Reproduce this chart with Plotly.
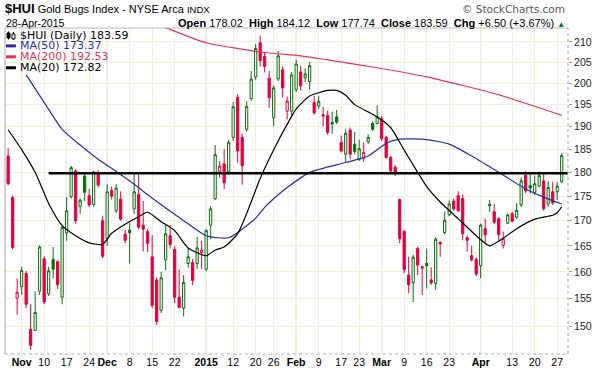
import math
import plotly.graph_objects as go

# ---------------- data ----------------
trading_days = [
    ("2014-10", [29, 30, 31]),
    ("2014-11", [3, 4, 5, 6, 7, 10, 11, 12, 13, 14, 17, 18, 19, 20, 21, 24, 25, 26, 28]),
    ("2014-12", [1, 2, 3, 4, 5, 8, 9, 10, 11, 12, 15, 16, 17, 18, 19, 22, 23, 24, 26, 29, 30, 31]),
    ("2015-01", [2, 5, 6, 7, 8, 9, 12, 13, 14, 15, 16, 20, 21, 22, 23, 26, 27, 28, 29, 30]),
    ("2015-02", [2, 3, 4, 5, 6, 9, 10, 11, 12, 13, 17, 18, 19, 20, 23, 24, 25, 26, 27]),
    ("2015-03", [2, 3, 4, 5, 6, 9, 10, 11, 12, 13, 16, 17, 18, 19, 20, 23, 24, 25, 26, 27, 30, 31]),
    ("2015-04", [1, 2, 6, 7, 8, 9, 10, 13, 14, 15, 16, 17, 20, 21, 22, 23, 24, 27, 28]),
]
dates = [f"{m}-{d:02d}" for m, ds in trading_days for d in ds]

opens = [183.5, 174.7, 155.1, 157.3, 159.7, 149.5, 149.3, 156.4, 162.5, 155.9,
         162.4, 162.0, 155.3, 167.6, 174.9, 180.3, 172.9, 179.2, 175.1, 173.3,
         179.6, 170.0, 166.5, 176.2, 172.0, 174.4, 167.3, 168.1, 172.4, 175.4,
         169.1, 167.8, 162.9, 158.5, 152.9, 162.3, 167.0, 164.3, 155.3, 153.3,
         161.6, 161.8, 161.6, 163.7, 160.5, 169.1, 174.5, 180.1, 181.8, 180.1,
         187.6, 196.7, 187.6, 189.4, 196.4, 201.5, 209.8, 206.5, 201.2, 192.0,
         201.0, 203.2, 193.5, 193.5, 198.5, 202.7, 201.3, 200.4, 195.5, 194.7,
         192.7, 192.5, 190.9, 192.2, 186.5, 183.9, 189.2, 186.1, 182.7, 183.0,
         186.6, 190.7, 190.7, 191.8, 187.6, 183.2, 181.1, 174.3, 167.9, 159.4,
         158.0, 164.5, 160.7, 161.6, 158.5, 157.8, 165.7, 167.6, 171.2, 174.0,
         175.1, 174.5, 166.6, 163.1, 162.4, 161.2, 168.4, 173.3, 171.8, 170.4,
         165.1, 169.5, 171.4, 170.7, 173.2, 179.4, 177.2, 175.7, 177.1, 178.2,
         173.4, 175.9, 175.9, 178.02]
highs = [185.2, 175.1, 158.8, 160.9, 160.2, 154.0, 156.4, 165.1, 163.0, 161.0,
         164.8, 162.2, 169.0, 174.8, 181.4, 180.7, 174.5, 179.7, 176.5, 180.3,
         180.5, 171.0, 177.5, 177.0, 177.5, 176.0, 168.2, 169.5, 179.6, 179.6,
         174.0, 168.3, 167.1, 159.0, 160.0, 169.1, 169.1, 165.0, 160.5, 159.4,
         164.6, 162.5, 166.8, 166.0, 168.3, 173.0, 185.9, 182.4, 185.0, 187.0,
         195.6, 197.5, 188.5, 195.8, 202.9, 209.5, 211.6, 207.5, 202.9, 199.5,
         207.8, 204.0, 196.9, 202.7, 205.6, 204.2, 203.5, 205.0, 197.0, 197.0,
         194.5, 193.6, 193.4, 193.8, 188.0, 189.4, 189.8, 188.8, 187.1, 186.5,
         188.3, 191.2, 194.8, 192.4, 188.0, 183.5, 181.5, 174.5, 168.0, 162.9,
         163.3, 164.8, 161.1, 164.5, 160.9, 166.7, 165.9, 171.8, 174.1, 174.5,
         176.0, 175.4, 167.0, 165.0, 162.8, 169.4, 170.4, 174.2, 173.4, 170.7,
         167.8, 171.4, 171.8, 173.6, 178.9, 180.3, 179.6, 179.3, 180.0, 180.0,
         178.2, 178.0, 177.9, 184.12]
lows = [177.3, 164.3, 152.1, 155.7, 153.3, 145.9, 149.2, 155.7, 154.0, 155.5,
        158.8, 156.8, 154.0, 166.0, 174.5, 169.4, 171.4, 174.0, 172.8, 172.8,
        176.9, 162.6, 165.0, 174.3, 171.5, 170.0, 165.5, 161.6, 171.4, 168.3,
        163.9, 163.8, 153.3, 150.3, 152.4, 160.3, 164.5, 154.2, 153.3, 151.8,
        160.8, 157.5, 160.6, 160.6, 160.1, 166.3, 174.2, 178.8, 176.5, 179.5,
        186.8, 182.1, 177.4, 188.9, 195.9, 200.8, 204.0, 202.6, 194.3, 190.1,
        200.5, 196.6, 191.6, 192.0, 198.0, 198.3, 200.2, 198.5, 192.7, 194.0,
        190.1, 188.2, 188.4, 190.6, 184.3, 182.1, 182.8, 183.9, 182.5, 182.2,
        186.1, 189.0, 190.5, 186.8, 182.9, 179.6, 179.2, 165.5, 159.8, 156.0,
        154.4, 159.4, 155.7, 156.9, 157.6, 156.6, 162.9, 167.3, 170.9, 172.0,
        171.8, 166.1, 163.9, 162.0, 159.2, 158.8, 165.5, 171.8, 169.3, 166.1,
        164.5, 169.3, 169.7, 170.4, 172.8, 175.6, 175.5, 175.2, 176.9, 172.0,
        172.8, 173.2, 174.2, 177.74]
closes = [177.6, 164.7, 156.2, 160.3, 154.0, 146.7, 152.5, 164.8, 154.4, 160.2,
          160.5, 157.6, 168.6, 172.0, 181.0, 170.0, 174.2, 175.8, 173.2, 180.1,
          177.3, 163.0, 175.9, 175.0, 176.7, 170.3, 166.1, 167.6, 175.9, 168.7,
          168.3, 165.5, 153.8, 150.9, 158.9, 167.4, 165.3, 155.3, 153.4, 158.0,
          162.9, 158.4, 164.6, 164.2, 168.0, 172.4, 183.8, 181.3, 177.8, 186.5,
          194.5, 184.6, 181.4, 194.6, 201.0, 208.4, 205.4, 204.0, 196.6, 198.9,
          206.6, 198.9, 195.8, 202.0, 204.6, 199.4, 202.2, 204.2, 193.1, 195.8,
          192.4, 188.7, 190.6, 191.0, 184.6, 188.5, 183.9, 184.5, 185.1, 184.3,
          187.6, 189.4, 192.2, 187.3, 183.2, 180.3, 180.0, 166.4, 160.4, 157.6,
          162.8, 161.3, 161.0, 161.2, 157.9, 166.3, 165.4, 170.1, 173.4, 172.4,
          172.0, 167.4, 166.1, 162.3, 159.6, 169.1, 167.2, 173.1, 169.7, 167.2,
          166.4, 171.2, 169.9, 172.1, 178.2, 176.1, 176.7, 177.6, 179.3, 172.4,
          176.8, 173.6, 177.09, 183.59]

ma20_dates = ["2014-10-29", "2014-11-03", "2014-11-06", "2014-11-11", "2014-11-14",
              "2014-11-19", "2014-11-24", "2014-11-28", "2014-12-02", "2014-12-05",
              "2014-12-10", "2014-12-12", "2014-12-17", "2014-12-22", "2014-12-26",
              "2015-01-02", "2015-01-06", "2015-01-08", "2015-01-13", "2015-01-16",
              "2015-01-21", "2015-01-27", "2015-01-29", "2015-02-02", "2015-02-05",
              "2015-02-11", "2015-02-13", "2015-02-18", "2015-02-20", "2015-02-26",
              "2015-03-02", "2015-03-04", "2015-03-09", "2015-03-12", "2015-03-16",
              "2015-03-19", "2015-03-25", "2015-04-01", "2015-04-06", "2015-04-09",
              "2015-04-14", "2015-04-20", "2015-04-24", "2015-04-27", "2015-04-28"]
ma20_vals = [189.3, 184.9, 180.0, 173.5, 169.0,
             167.0, 165.6, 165.3, 167.5, 169.3,
             170.8, 171.7, 169.8, 168.0, 164.6,
             163.1, 164.2, 164.8, 167.4, 173.8,
             178.7, 186.8, 190.5, 194.0, 197.0,
             198.3, 198.3, 197.2, 195.0, 192.8,
             191.5, 189.8, 184.8, 180.0, 177.0,
             173.8, 170.4, 166.2, 165.0, 166.5,
             168.4, 170.3, 171.1, 171.6, 172.82]

ma50_dates = ["2014-11-04", "2014-11-11", "2014-11-14", "2014-11-26", "2014-12-03",
              "2014-12-09", "2014-12-12", "2014-12-24", "2015-01-02", "2015-01-09",
              "2015-01-20", "2015-01-22", "2015-01-27", "2015-01-29", "2015-02-05",
              "2015-02-18", "2015-02-25", "2015-03-03", "2015-03-06", "2015-03-16",
              "2015-03-23", "2015-03-30", "2015-04-08", "2015-04-16", "2015-04-22",
              "2015-04-28"]
ma50_vals = [202.0, 193.9, 189.4, 182.8, 180.2,
             177.5, 175.3, 170.0, 167.0, 166.6,
             170.5, 172.7, 175.3, 176.8, 180.0,
             182.1, 183.5, 186.3, 187.2, 187.1,
             186.1, 183.5, 180.0, 176.5, 174.8,
             173.37]

ma200_dates = ["2014-12-11", "2014-12-18", "2015-01-02", "2015-01-22", "2015-02-03",
               "2015-02-11", "2015-02-27", "2015-03-16", "2015-04-08", "2015-04-23",
               "2015-04-28"]
ma200_vals = [215.8, 213.6, 209.8, 207.4, 206.6,
              205.6, 203.7, 201.5, 197.3, 193.6,
              192.53]

support_level = 179.8
support_start = "2014-11-11"

tick_dates = ["2014-11-03", "2014-11-10", "2014-11-17", "2014-11-24", "2014-12-01",
              "2014-12-08", "2014-12-15", "2014-12-22", "2015-01-02", "2015-01-12",
              "2015-01-20", "2015-01-26", "2015-02-02", "2015-02-09", "2015-02-17",
              "2015-02-23", "2015-03-02", "2015-03-09", "2015-03-16", "2015-03-23",
              "2015-04-01", "2015-04-13", "2015-04-20", "2015-04-27"]
tick_labels = ["<b>Nov</b>", "10", "17", "24", "<b>Dec</b>", "8", "15", "22", "<b>2015</b>",
               "12", "20", "26", "<b>Feb</b>", "9", "17", "23", "<b>Mar</b>", "9", "16",
               "23", "<b>Apr</b>", "13", "20", "27"]
month_starts = ["2014-11-03", "2014-12-01", "2015-01-02", "2015-02-02", "2015-03-02", "2015-04-01"]
y_ticks = [150, 155, 160, 165, 170, 175, 180, 185, 190, 195, 200, 205, 210]

# ---------------- styling ----------------
GREEN = "#0b6e0b"
RED = "#e2003f"
BLUE = "#26309c"
CRIMSON = "#e4335f"
GRID = "#f1efd8"
MONTHGRID = "#c6dec6"

W, H = 597, 373
ML, MR, MT, MB = 5, 25, 28, 17
PW, PH = W - ML - MR, H - MT - MB
X_RANGE = [-0.7, 124.4]
Y_LO, Y_HI = 145.2, 213.5


def px(x):
    return (x - ML) / PW


def py(y):
    return (H - MB - y) / PH


def yval_paper(v):
    return (math.log10(v) - math.log10(Y_LO)) / (math.log10(Y_HI) - math.log10(Y_LO))


pos = {d: i for i, d in enumerate(dates)}
xs = list(range(len(dates)))

# colour by close vs previous close (StockCharts convention)
up_idx, dn_idx = [], []
for i in xs:
    ref = closes[i - 1] if i > 0 else opens[i]
    (up_idx if closes[i] >= ref else dn_idx).append(i)

fig = go.Figure()


def add_candles(idx, color):
    fig.add_trace(go.Candlestick(
        x=[xs[i] for i in idx],
        open=[opens[i] for i in idx], high=[highs[i] for i in idx],
        low=[lows[i] for i in idx], close=[closes[i] for i in idx],
        increasing=dict(line=dict(color=color, width=1), fillcolor="white"),
        decreasing=dict(line=dict(color=color, width=1), fillcolor=color),
        whiskerwidth=0, showlegend=False, hoverinfo="skip"))


add_candles(up_idx, GREEN)
add_candles(dn_idx, RED)

for d_list, v_list, col, wdt in [(ma200_dates, ma200_vals, CRIMSON, 1.2),
                                  (ma50_dates, ma50_vals, BLUE, 1.2),
                                  (ma20_dates, ma20_vals, "black", 1.2)]:
    fig.add_trace(go.Scatter(x=[pos[d] for d in d_list], y=v_list, mode="lines",
                             line=dict(color=col, width=wdt, shape="spline", smoothing=0.6),
                             showlegend=False, hoverinfo="skip"))

shapes = []
for d in month_starts:
    shapes.append(dict(type="line", xref="x", yref="paper", x0=pos[d], x1=pos[d], y0=0, y1=1,
                       line=dict(color=MONTHGRID, width=1.2), layer="below"))
# support line
shapes.append(dict(type="line", xref="x", yref="paper", x0=pos[support_start], x1=X_RANGE[1],
                   y0=yval_paper(support_level), y1=yval_paper(support_level),
                   line=dict(color="black", width=2.6)))
# frame
shapes += [
    dict(type="line", xref="paper", yref="paper", x0=0, x1=0, y0=0, y1=1, line=dict(color="#a8a8a8", width=1)),
    dict(type="line", xref="paper", yref="paper", x0=0, x1=1, y0=1, y1=1, line=dict(color="#b8b8b8", width=1)),
    dict(type="line", xref="paper", yref="paper", x0=1, x1=1, y0=0, y1=1, line=dict(color="#a0a0a0", width=1, dash="dot")),
    dict(type="line", xref="paper", yref="paper", x0=0, x1=1, y0=0, y1=0, line=dict(color="#b0b0b0", width=1, dash="dot")),
]
# legend markers
for yy, col in [(46, BLUE), (57, CRIMSON), (68, "black")]:
    shapes.append(dict(type="line", xref="paper", yref="paper", x0=px(6), x1=px(16), y0=py(yy), y1=py(yy),
                       line=dict(color=col, width=3)))
# candle icon for $HUI
shapes += [
    dict(type="line", xref="paper", yref="paper", x0=px(8.5), x1=px(8.5), y0=py(39.5), y1=py(31.5), line=dict(color="black", width=1)),
    dict(type="rect", xref="paper", yref="paper", x0=px(7), x1=px(10), y0=py(38), y1=py(33), line=dict(color="black", width=1), fillcolor="black"),
    dict(type="line", xref="paper", yref="paper", x0=px(13.5), x1=px(13.5), y0=py(40), y1=py(32), line=dict(color="black", width=1)),
    dict(type="rect", xref="paper", yref="paper", x0=px(12), x1=px(15), y0=py(39), y1=py(34), line=dict(color="black", width=1), fillcolor="white"),
]

HF = "Liberation Sans, Arial, sans-serif"
LF = "DejaVu Sans, Verdana, sans-serif"
ann = []
ann.append(dict(xref="paper", yref="paper", x=px(3), y=py(8.5), xanchor="left", yanchor="middle",
                text="<span style='font-size:13px'><b>$HUI</b></span> Gold Bugs Index - NYSE Arca <span style='font-size:9.5px'>INDX</span>",
                showarrow=False, font=dict(family=HF, size=11, color="black")))
ann.append(dict(xref="paper", yref="paper", x=px(4), y=py(22.5), xanchor="left", yanchor="middle",
                text="28-Apr-2015", showarrow=False, font=dict(family=HF, size=10.5, color="black")))
ann.append(dict(xref="paper", yref="paper", x=px(571), y=py(22.5), xanchor="right", yanchor="middle",
                text="<b>Open</b> 178.02  <b>High</b> 184.12  <b>Low</b> 177.74  <b>Close</b> 183.59  <b>Chg</b> +6.50 (+3.67%) <span style='color:#0b6e0b;font-size:8px'>▲</span>",
                showarrow=False, font=dict(family=HF, size=11, color="black")))
ann.append(dict(xref="paper", yref="paper", x=px(571), y=py(9), xanchor="right", yanchor="middle",
                text="© StockCharts.com", showarrow=False, font=dict(family=LF, size=10.5, color="#555555")))
for yy, txt, col in [(35.5, "$HUI (Daily) 183.59", "black"), (46, "MA(50) 173.37", BLUE),
                     (57, "MA(200) 192.53", CRIMSON), (68, "MA(20) 172.82", "black")]:
    ann.append(dict(xref="paper", yref="paper", x=px(18.5), y=py(yy), xanchor="left", yanchor="middle",
                    text=txt, showarrow=False, font=dict(family=LF, size=11, color=col)))

fig.update_layout(
    width=W, height=H, margin=dict(l=ML, r=MR, t=MT, b=MB, pad=0),
    paper_bgcolor="white", plot_bgcolor="white",
    shapes=shapes, annotations=ann, showlegend=False,
    xaxis=dict(range=X_RANGE, tickvals=[pos[d] for d in tick_dates], ticktext=tick_labels,
               showgrid=True, gridcolor=GRID, gridwidth=1, zeroline=False, showline=False,
               ticks="", tickfont=dict(family=HF, size=10.5, color="black"),
               rangeslider=dict(visible=False), fixedrange=True),
    yaxis=dict(type="log", range=[math.log10(Y_LO), math.log10(Y_HI)], side="right",
               tickvals=y_ticks, ticktext=[str(v) for v in y_ticks],
               showgrid=True, gridcolor=GRID, gridwidth=1, zeroline=False, showline=False,
               ticks="outside", ticklen=3, tickcolor="#999999",
               tickfont=dict(family=HF, size=10.5, color="#222222"), fixedrange=True),
)

fig.write_html("out.html", config={"displayModeBar": False},
               post_script="document.body.style.margin='0px';document.body.style.overflow='hidden';")
